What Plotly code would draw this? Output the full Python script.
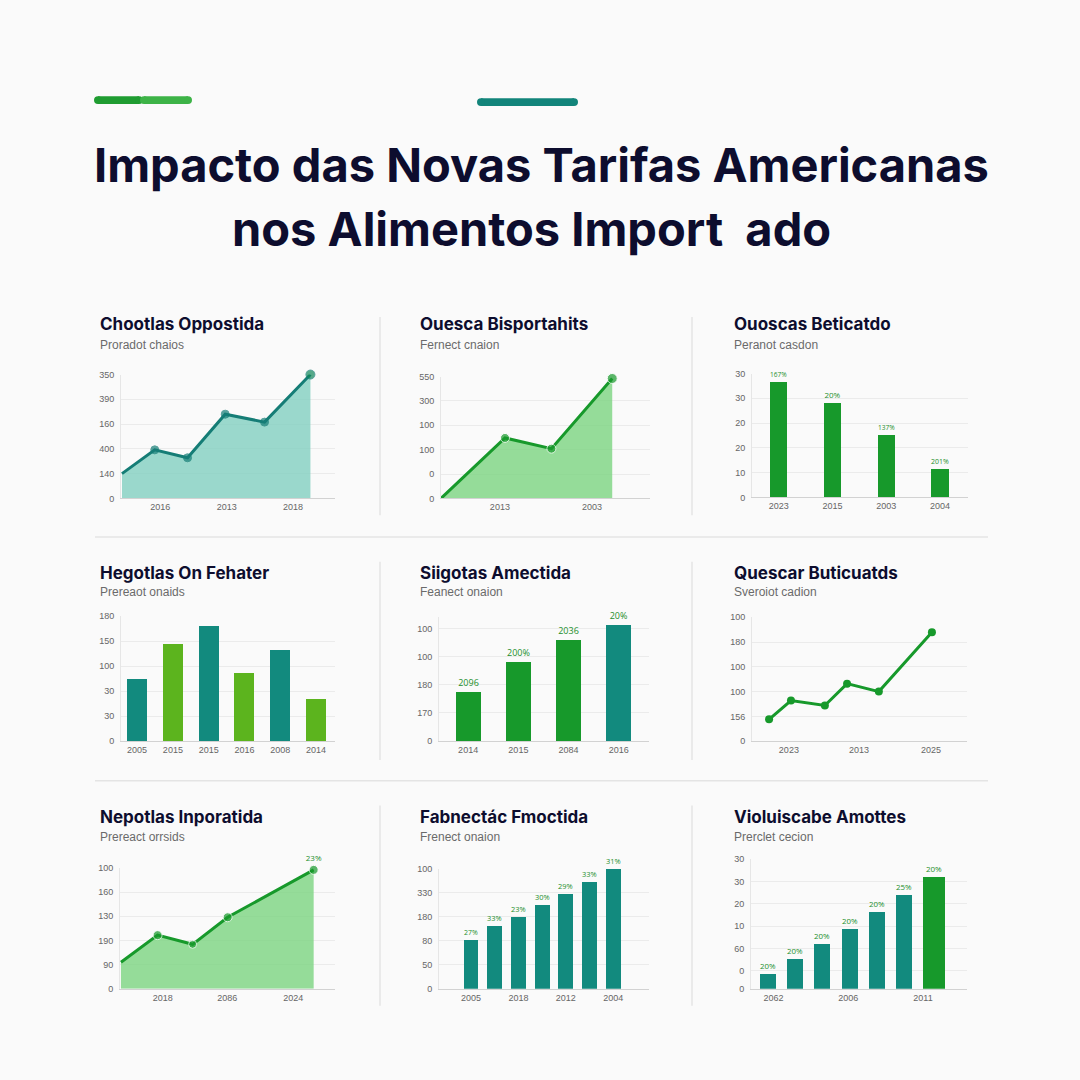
import plotly.graph_objects as go

W = H = 1080

# ---------------- data ----------------
main_title = ["Impacto das Novas Tarifas Americanas", "nos Alimentos Import  ado"]

panel_titles = ["Chootlas Oppostida", "Ouesca Bisportahits", "Ouoscas Beticatdo",
                "Hegotlas On Fehater", "Siigotas Amectida", "Quescar Buticuatds",
                "Nepotlas Inporatida", "Fabnectác Fmoctida", "Violuiscabe Amottes"]
panel_subtitles = ["Proradot chaios", "Fernect cnaion", "Peranot casdon",
                   "Prereaot onaids", "Feanect onaion", "Sveroiot cadion",
                   "Prereact orrsids", "Frenect onaion", "Prerclet cecion"]

# panel 1 - teal area line
p1_x = [0, 1, 2, 3.15, 4.35, 5.75]
p1_y = [50, 98, 82, 170, 154, 250]
p1_yticks = ["0", "140", "400", "160", "390", "350"]
p1_xticks = ["2016", "2013", "2018"]

# panel 2 - green area line
p2_x = [0, 2, 3.45, 5.35]
p2_y = [0, 124, 102, 246]
p2_yticks = ["0", "0", "100", "100", "300", "550"]
p2_xticks = ["2013", "2003"]

# panel 3 - green bars
p3_cats = ["2023", "2015", "2003", "2004"]
p3_vals = [46.8, 38.4, 25.2, 11.6]
p3_labels = ["167%", "20%", "137%", "201%"]
p3_yticks = ["0", "10", "20", "20", "30", "30"]

# panel 4 - alternating bars
p4_cats = ["2005", "2015", "2015", "2016", "2008", "2014"]
p4_vals = [123, 194, 230, 135, 181, 83]
p4_yticks = ["0", "30", "30", "100", "150", "180"]

# panel 5 - bars with labels
p5_cats = ["2014", "2015", "2084", "2016"]
p5_vals = [86, 140, 179, 205]
p5_labels = ["2096", "200%", "2036", "20%"]
p5_yticks = ["0", "170", "180", "100", "100"]

# panel 6 - green line
p6_x = [0.57, 1.3, 2.43, 3.17, 4.23, 6.0]
p6_y = [44, 82, 72, 116, 100, 220]
p6_yticks = ["0", "156", "100", "100", "180", "100"]
p6_xticks = ["2023", "2013", "2025"]

# panel 7 - green area line
p7_x = [0, 1.15, 2.25, 3.35, 6.05]
p7_y = [55, 111, 92, 148, 246]
p7_yticks = ["0", "90", "190", "130", "160", "100"]
p7_xticks = ["2018", "2086", "2024"]
p7_last_label = "23%"

# panel 8 - teal bars
p8_vals = [101, 132, 149, 174, 198, 223, 250]
p8_labels = ["27%", "33%", "23%", "30%", "29%", "33%", "31%"]
p8_yticks = ["0", "50", "80", "180", "330", "100"]
p8_xticks = ["2005", "2018", "2012", "2004"]

# panel 9 - teal bars + green final
p9_x = [0, 1, 2, 3, 4, 5, 6.1]
p9_vals = [6.6, 13.3, 19.9, 26.5, 34.5, 42, 50]
p9_labels = ["20%", "20%", "20%", "20%", "20%", "25%", "20%"]
p9_yticks = ["0", "0", "60", "10", "20", "30", "30"]
p9_xticks = ["2062", "2006", "2011"]

# ---------------- styles ----------------
TEAL = "#128a7e"
TEAL_LINE = "#157d76"
GREEN = "#17992b"
LIME = "#5cb41e"
LBL_GREEN = "#1c8f2c"
NAVY = "#0d0d2e"
GRID = "#ebebeb"
BG = "#fafafa"

fig = go.Figure()

def dom(L, R, T, B):
    return [L / W, R / W], [1 - B / H, 1 - T / H]

# (L, R, T, B) in pixels, y range, y tickvals, x range
specs = [
    ((121, 335, 373, 498), [0, 250], [0, 50, 100, 150, 200, 250], [-0.03, 6.5]),
    ((441, 650, 375, 498), [0, 250], [0, 50, 100, 150, 200, 250], [0, 6.53]),
    ((752, 968, 372, 497), [0, 50], [0, 10, 20, 30, 40, 50], [-0.5, 3.52]),
    ((121, 335, 617, 743), [0, 250], [0, 50, 100, 150, 200, 250], [-0.45, 5.53]),
    ((439, 649, 618, 743), [0, 220], [0, 50, 100, 150, 200], [-0.58, 3.6]),
    ((752, 967, 618, 743), [0, 250], [0, 50, 100, 150, 200, 250], [0, 7.17]),
    ((120, 335, 871, 993), [0, 250], [0, 50, 100, 150, 200, 250], [-0.03, 6.72]),
    ((439, 649, 872, 993), [0, 250], [0, 50, 100, 150, 200, 250], [-1.35, 7.51]),
    ((751, 967, 862, 993), [0, 58], [0, 8, 18, 28, 38, 48, 58], [-0.625, 7.32]),
]
yticktexts = [p1_yticks, p2_yticks, p3_yticks, p4_yticks, p5_yticks,
              p6_yticks, p7_yticks, p8_yticks, p9_yticks]
xtick_defs = [
    ([1.17, 3.2, 5.22], p1_xticks),
    ([1.84, 4.72], p2_xticks),
    ([0, 1, 2, 3], p3_cats),
    ([0, 1, 2, 3, 4, 5], p4_cats),
    ([0, 1, 2, 3], p5_cats),
    ([1.23, 3.57, 5.97], p6_xticks),
    ([1.31, 3.34, 5.41], p7_xticks),
    ([0, 2, 4, 6], p8_xticks),
    ([0.2, 2.95, 5.7], p9_xticks),
]

tickfont = dict(family="Liberation Sans, Arial", size=9, color="#666666")
for i, (box, yr, ytv, xr) in enumerate(specs):
    n = "" if i == 0 else str(i + 1)
    xd, yd = dom(*box)
    fig.layout["xaxis" + n] = dict(
        domain=xd, range=xr, anchor="y" + n, showgrid=False, zeroline=False,
        showline=True, linecolor="#d2d2d2", linewidth=1, ticks="",
        tickvals=xtick_defs[i][0], ticktext=xtick_defs[i][1], tickfont=tickfont,
        fixedrange=True)
    fig.layout["yaxis" + n] = dict(
        domain=yd, range=yr, anchor="x" + n, showgrid=True, gridcolor=GRID,
        gridwidth=1, zeroline=False, showline=True, linecolor="#e6e6e6",
        ticks="", tickvals=ytv, ticktext=yticktexts[i], tickfont=tickfont,
        ticklabelstandoff=4, fixedrange=True)

def ax(i):
    return ("x" if i == 0 else "x" + str(i + 1)), ("y" if i == 0 else "y" + str(i + 1))

# Panel 1
xa, ya = ax(0)
fig.add_trace(go.Scatter(x=p1_x, y=p1_y, mode="lines+markers", fill="tozeroy",
                         fillcolor="rgba(130,208,192,0.8)",
                         line=dict(color=TEAL_LINE, width=3),
                         marker=dict(size=[0, 8, 8, 8, 8, 9],
                                     color=[TEAL_LINE] * 5 + ["#12875a"]),
                         xaxis=xa, yaxis=ya, cliponaxis=False))
# Panel 2
xa, ya = ax(1)
fig.add_trace(go.Scatter(x=p2_x, y=p2_y, mode="lines+markers", fill="tozeroy",
                         fillcolor="rgba(130,214,135,0.85)",
                         line=dict(color=GREEN, width=3),
                         marker=dict(size=[0, 9, 9, 10], color=GREEN),
                         xaxis=xa, yaxis=ya, cliponaxis=False))
# Panel 3
xa, ya = ax(2)
fig.add_trace(go.Bar(x=[0, 1, 2, 3], y=p3_vals, width=0.32, marker_color=GREEN,
                     text=p3_labels, textposition="outside",
                     textfont=dict(size=8, color=LBL_GREEN), cliponaxis=False,
                     xaxis=xa, yaxis=ya))
# Panel 4
xa, ya = ax(3)
fig.add_trace(go.Bar(x=[0, 1, 2, 3, 4, 5], y=p4_vals, width=0.56,
                     marker_color=[TEAL, LIME, TEAL, LIME, TEAL, LIME],
                     xaxis=xa, yaxis=ya))
# Panel 5
xa, ya = ax(4)
fig.add_trace(go.Bar(x=[0, 1, 2, 3], y=p5_vals, width=0.5,
                     marker_color=[GREEN, GREEN, GREEN, TEAL],
                     text=p5_labels, textposition="outside",
                     textfont=dict(size=9, color=LBL_GREEN), cliponaxis=False,
                     xaxis=xa, yaxis=ya))
# Panel 6
xa, ya = ax(5)
fig.add_trace(go.Scatter(x=p6_x, y=p6_y, mode="lines+markers",
                         line=dict(color=GREEN, width=3),
                         marker=dict(size=8, color=GREEN),
                         xaxis=xa, yaxis=ya, cliponaxis=False))
# Panel 7
xa, ya = ax(6)
fig.add_trace(go.Scatter(x=p7_x, y=p7_y, mode="lines+markers+text", fill="tozeroy",
                         fillcolor="rgba(130,214,135,0.85)",
                         line=dict(color=GREEN, width=3),
                         marker=dict(size=[0, 9, 8, 9, 9], color=GREEN),
                         text=[""] * 4 + [p7_last_label], textposition="top center",
                         textfont=dict(size=8, color=LBL_GREEN),
                         xaxis=xa, yaxis=ya, cliponaxis=False))
# Panel 8
xa, ya = ax(7)
fig.add_trace(go.Bar(x=list(range(7)), y=p8_vals, width=0.63, marker_color=TEAL,
                     text=p8_labels, textposition="outside",
                     textfont=dict(size=8, color=LBL_GREEN), cliponaxis=False,
                     xaxis=xa, yaxis=ya))
# Panel 9
xa, ya = ax(8)
fig.add_trace(go.Bar(x=p9_x, y=p9_vals, width=[0.59] * 6 + [0.81],
                     marker_color=[TEAL] * 6 + [GREEN],
                     text=p9_labels, textposition="outside",
                     textfont=dict(size=8, color=LBL_GREEN), cliponaxis=False,
                     xaxis=xa, yaxis=ya))

fig.update_traces(selector=dict(type="bar"), marker_line_width=0)

# ---------------- annotations ----------------
ann = []
ann.append(dict(text="<b>" + main_title[0] + "</b>", x=541 / W, y=1 - 161 / H,
                xref="paper", yref="paper", showarrow=False, xanchor="center",
                yanchor="middle", font=dict(family="Inter", size=47, color=NAVY)))
ann.append(dict(text="<b>" + main_title[1] + "</b>", x=531 / W, y=1 - 226 / H,
                xref="paper", yref="paper", showarrow=False, xanchor="center",
                yanchor="middle", font=dict(family="Inter", size=47, color=NAVY)))

col_x = [98, 418, 732]
row_title_y = [322, 573, 820]
row_sub_y = [343, 592, 840]
for i in range(9):
    r, c = divmod(i, 3)
    ann.append(dict(text="<b>" + panel_titles[i] + "</b>", x=col_x[c] / W,
                    y=1 - row_title_y[r] / H, xref="paper", yref="paper",
                    showarrow=False, xanchor="left", yanchor="middle",
                    font=dict(family="Inter", size=17, color=NAVY)))
    ann.append(dict(text=panel_subtitles[i], x=col_x[c] / W,
                    y=1 - row_sub_y[r] / H, xref="paper", yref="paper",
                    showarrow=False, xanchor="left", yanchor="middle",
                    font=dict(family="Liberation Sans, Arial", size=12, color="#6a6a6a")))

# ---------------- shapes ----------------
shapes = []

def pill(x0, x1, yc, h, color):
    r = h / 2
    out = [dict(type="rect", xref="paper", yref="paper", x0=(x0 + r) / W, x1=(x1 - r) / W,
                y0=1 - (yc + r) / H, y1=1 - (yc - r) / H, fillcolor=color, line_width=0)]
    for cx in (x0 + r, x1 - r):
        out.append(dict(type="circle", xref="paper", yref="paper",
                        x0=(cx - r) / W, x1=(cx + r) / W,
                        y0=1 - (yc + r) / H, y1=1 - (yc - r) / H,
                        fillcolor=color, line_width=0))
    return out

shapes += pill(94, 143, 96, 8, "#1f9c31")
shapes += pill(140, 192, 96, 8, "#3db347")
shapes += pill(477, 578, 98, 8, "#12847a")

for (y0, y1) in [(315, 515), (562, 762), (808, 1010)]:
    for xv in [380, 692]:
        shapes.append(dict(type="line", xref="paper", yref="paper", x0=xv / W, x1=xv / W,
                           y0=1 - y0 / H, y1=1 - y1 / H,
                           line=dict(color="#e4e4e4", width=1.5)))
for yv in [537, 783]:
    shapes.append(dict(type="line", xref="paper", yref="paper", x0=95 / W, x1=988 / W,
                       y0=1 - yv / H, y1=1 - yv / H,
                       line=dict(color="#e4e4e4", width=1.5)))

fig.update_layout(width=W, height=H, margin=dict(l=0, r=0, t=0, b=0),
                  paper_bgcolor=BG, plot_bgcolor=BG, showlegend=False,
                  annotations=ann, shapes=shapes, bargap=0)

fig.write_html("out.html", config=dict(displayModeBar=False))
